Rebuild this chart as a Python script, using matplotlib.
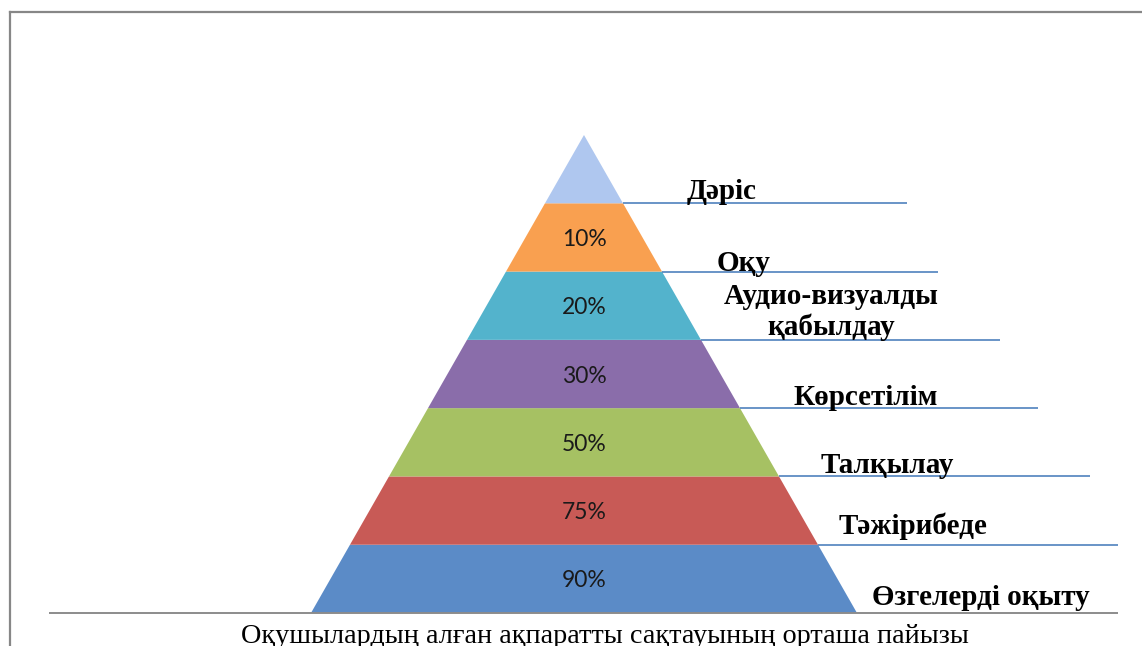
import matplotlib
matplotlib.use("Agg")
import matplotlib.pyplot as plt
from matplotlib.patches import Polygon, Rectangle
from matplotlib.lines import Line2D

# ---- data (bottom to top) ----
levels = ["Өзгелерді оқыту", "Тәжірибеде", "Талқылау", "Көрсетілім",
          "Аудио-визуалды\nқабылдау", "Оқу", "Дәріс"]
retention = [90, 75, 50, 30, 20, 10, None]
colors = ["#5B8BC7", "#C85A56", "#A6C163", "#8A6DAA", "#53B3CC", "#F9A050", "#AFC7EF"]
title = "Оқушылардың алған ақпаратты сақтауының орташа пайызы"

# ---- layout (styles) ----
line_end = [13.69, 13.69, 12.97, 11.64, 10.67, 9.08, 8.28]
label_x = [10.18, 8.44, 7.77, 7.23, 6.33, 4.10, 3.54]
label_dy = [0.12, 0.15, 0.05, 0.05, 0.07, 0.005, 0.06]

W, H, DPI = 1142, 646, 100
fig = plt.figure(figsize=(W / DPI, H / DPI), dpi=DPI)
ax = fig.add_axes([0, 0, 1, 1])
n = len(levels)
ax.set_ylim(-0.4833, 8.977)
ax.set_xlim(-14.974, 14.308)
ax.axis("off")

for i, (lab, val, col) in enumerate(zip(levels, retention, colors)):
    y0, y1 = i, i + 1
    hw0, hw1 = n - y0, n - y1
    poly = Polygon([(-hw0, y0), (hw0, y0), (hw1, y1), (-hw1, y1)],
                   closed=True, facecolor=col, edgecolor="none", zorder=2)
    ax.add_patch(poly)
    if val is not None:
        ax.text(0, i + 0.47, f"{val}%", ha="center", va="center",
                fontsize=16.5, family="Lato", color="#1a1a1a", zorder=4)
    # leader line at bottom boundary of the band
    if i == 0:
        ax.plot([-13.72, line_end[i]], [y0, y0], color="#8c8c8c", lw=1.4,
                zorder=3, solid_capstyle="butt")
    else:
        ax.plot([hw0, line_end[i]], [y0, y0], color="#4F81BD", lw=1.2,
                zorder=3, solid_capstyle="butt")
    t = ax.text(label_x[i], y0 + label_dy[i], lab, ha="center", va="baseline",
                fontsize=21, family="Liberation Serif", fontweight="bold",
                color="black", zorder=5, linespacing=1.15, multialignment="center")
    clip = Rectangle((-20, y0 + 0.005), 40, 5, transform=ax.transData)
    t.set_clip_path(clip)

# title below
fig.text(605 / W, 1 - 643 / H, title, ha="center", va="baseline",
         fontsize=20.3, family="Liberation Serif", color="black")

# frame
fig.add_artist(Line2D([10 / W, 10 / W], [0, 1 - 12 / H], color="#878787", lw=1.6,
                      transform=fig.transFigure, solid_capstyle="projecting"))
fig.add_artist(Line2D([10 / W, 1], [1 - 12 / H, 1 - 12 / H], color="#878787", lw=1.6,
                      transform=fig.transFigure, solid_capstyle="projecting"))

fig.savefig("out.png", dpi=DPI)
